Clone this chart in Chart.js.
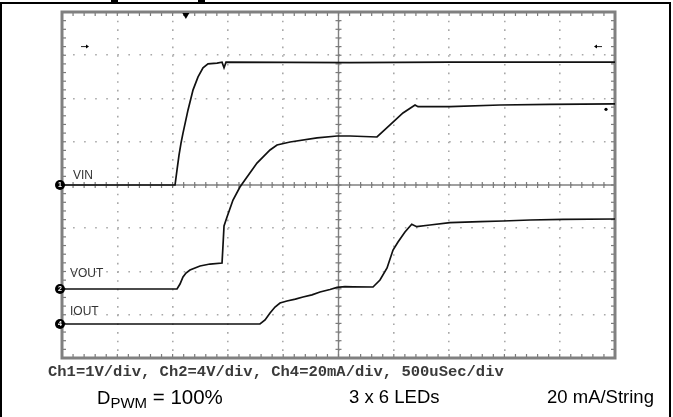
<!DOCTYPE html>
<html><head><meta charset="utf-8">
<script src="https://cdn.jsdelivr.net/npm/chart.js@4.4.1/dist/chart.umd.min.js"></script>
<style>
html,body{margin:0;padding:0;background:#fff;}
#wrap{position:relative;width:673px;height:417px;overflow:hidden;background:#fff;}
#box{position:absolute;left:0;top:2px;width:671px;height:440px;border:2px solid #000;box-sizing:border-box;}
canvas{position:absolute;left:0;top:0;}
.cap{position:absolute;font-family:"Liberation Mono","Courier New",monospace;font-weight:bold;font-size:15.5px;color:#3a3a3a;white-space:nowrap;}
.big{position:absolute;font-family:"Liberation Sans",Arial,sans-serif;font-size:18.5px;color:#000;white-space:nowrap;}
.big sub{font-size:15px;vertical-align:-4px;}
.big .eq{font-size:20.5px;}
.frag{position:absolute;top:0;height:2px;background:#000;}
</style></head>
<body><div id="wrap"><div id="box"></div><canvas id="c" width="673" height="417"></canvas>
<div class="frag" style="left:111px;width:7px"></div>
<div class="frag" style="left:198px;width:7px"></div>
<div class="cap" style="left:48px;top:363px">Ch1=1V/div, Ch2=4V/div, Ch4=20mA/div, 500uSec/div</div>
<div class="big" style="left:97px;top:385px">D<sub>PWM</sub><span class="eq"> = 100%</span></div>
<div class="big" style="left:349px;top:386px">3 x 6 LEDs</div>
<div class="big" style="left:547px;top:386px">20 mA/String</div>
</div>
<script>
// ---- data read from the scope capture (time in microseconds) ----
const vinTimeUs   = [0, 1022, 1040, 1058, 1076, 1094, 1139, 1185, 1230, 1275, 1320, 1402, 1447, 1465, 1483, 2600, 3500, 5000];
const vinVolts    = [0, 0, 0.35, 0.69, 0.97, 1.20, 1.73, 2.20, 2.50, 2.71, 2.80, 2.82, 2.84, 2.71, 2.84, 2.83, 2.84, 2.84];

const voutTimeUs  = [0, 1040, 1067, 1094, 1121, 1157, 1248, 1338, 1447, 1456, 1465, 1492, 1546, 1609, 1673, 1763, 1881, 1944, 2062, 2306, 2487, 2604, 2848, 2966, 3083, 3192, 3219, 3508, 3960, 4412, 5000];
const voutVolts   = [0, 0, 0.46, 1.11, 1.48, 1.76, 2.13, 2.31, 2.40, 4.10, 5.83, 6.66, 8.23, 9.43, 10.36, 11.65, 12.86, 13.32, 13.60, 13.97, 14.15, 14.15, 14.06, 15.17, 16.28, 17.02, 16.86, 16.86, 17.02, 17.08, 17.12];

const ioutTimeUs  = [0, 1790, 1836, 1881, 1926, 1971, 2034, 2110, 2179, 2260, 2333, 2423, 2487, 2559, 2631, 2812, 2875, 2939, 2993, 3038, 3101, 3162, 3207, 3327, 3508, 3780, 3987, 4232, 4530, 5000];
const ioutMilliA  = [0, 0, 1.85, 5.09, 7.86, 9.71, 10.64, 11.50, 12.49, 13.50, 14.80, 15.95, 16.90, 17.30, 17.20, 17.11, 20.35, 25.90, 34.22, 37.92, 42.54, 46.10, 44.99, 45.78, 46.84, 47.30, 47.63, 48.09, 48.41, 48.55];

const channelLabels = ['VIN', 'VOUT', 'IOUT'];
const channelNumbers = ['1', '2', '4'];

// scope settings
const timePerDivUs = 500, hDivs = 10, vDivs = 8;
const ch1PerDiv = 1, ch2PerDiv = 4, ch4PerDiv = 20;
const ch1GroundDiv = 0, ch2GroundDiv = -2.405, ch4GroundDiv = -3.214;

function pts(t, v){ return t.map((x,i)=>({x:x, y:v[i]})); }
function range(perDiv, gnd){ return {min:(-vDivs/2 - gnd)*perDiv, max:(vDivs/2 - gnd)*perDiv}; }

const graticule = {
  id: 'graticule',
  beforeDatasetsDraw(chart){
    const {ctx, chartArea:a, scales} = chart;
    const xs = scales.x, gs = scales.grid;
    const cx = xs.getPixelForValue(timePerDivUs*hDivs/2), cy = gs.getPixelForValue(0);
    const L = (x1,y1,x2,y2)=>{ctx.beginPath();ctx.moveTo(x1,y1);ctx.lineTo(x2,y2);ctx.stroke();};
    ctx.save();
    ctx.strokeStyle = '#808080'; ctx.lineWidth = 1.4;
    L(a.left, cy, a.right, cy); L(cx, a.top, cx, a.bottom);
    ctx.lineWidth = 1.2; ctx.strokeStyle = '#7a7a7a';
    for (let i=0;i<=hDivs*5;i++){
      const x = xs.getPixelForValue(i*timePerDivUs/5);
      L(x, a.top, x, a.top+4); L(x, a.bottom-4, x, a.bottom); L(x, cy-3, x, cy+3);
    }
    for (let j=0;j<=vDivs*5;j++){
      const y = gs.getPixelForValue(-vDivs/2 + j/5);
      L(a.left, y, a.left+4, y); L(a.right-4, y, a.right, y); L(cx-3, y, cx+3, y);
    }
    ctx.lineWidth = 3; ctx.strokeStyle = '#808080';
    ctx.strokeRect(a.left, a.top, a.right-a.left, a.bottom-a.top);
    ctx.restore();
  },
  afterDatasetsDraw(chart){
    const {ctx, chartArea:a, scales} = chart;
    ctx.save();
    const grounds = [scales.ch1.getPixelForValue(0), scales.ch2.getPixelForValue(0), scales.ch4.getPixelForValue(0)];
    const labelDx = [11, 8, 8], labelDy = [-6, -12, -9];
    grounds.forEach((gy,i)=>{
      ctx.font = '12px "Liberation Sans", Arial, sans-serif'; ctx.textAlign = 'left'; ctx.textBaseline = 'alphabetic';
      ctx.fillStyle = '#333';
      ctx.fillText(channelLabels[i], a.left + labelDx[i], gy + labelDy[i]);
      ctx.fillStyle = '#000';
      ctx.beginPath(); ctx.arc(a.left-2, gy, 5, 0, Math.PI*2); ctx.fill();
      ctx.fillStyle = '#fff'; ctx.font = 'bold 7px "Liberation Sans", Arial';
      ctx.textAlign = 'center'; ctx.textBaseline = 'middle';
      ctx.fillText(channelNumbers[i], a.left-2, gy+0.5);
    });
    // trigger position marker
    const tx = scales.x.getPixelForValue(1120);
    ctx.fillStyle = '#000';
    ctx.beginPath(); ctx.moveTo(tx-3.5, a.top+1); ctx.lineTo(tx+3.5, a.top+1); ctx.lineTo(tx, a.top+7); ctx.closePath(); ctx.fill();
    // trigger level arrows
    const ay = scales.grid.getPixelForValue(3.2);
    ctx.strokeStyle = '#222'; ctx.lineWidth = 1;
    const lx = a.left + 24, rx = a.right - 18;
    ctx.beginPath(); ctx.moveTo(lx-5, ay); ctx.lineTo(lx+2, ay); ctx.stroke();
    ctx.beginPath(); ctx.moveTo(lx+3, ay); ctx.lineTo(lx, ay-2); ctx.lineTo(lx, ay+2); ctx.closePath(); ctx.fill();
    ctx.beginPath(); ctx.moveTo(rx-2, ay); ctx.lineTo(rx+5, ay); ctx.stroke();
    ctx.beginPath(); ctx.moveTo(rx-3, ay); ctx.lineTo(rx, ay-2); ctx.lineTo(rx, ay+2); ctx.closePath(); ctx.fill();
    ctx.beginPath(); ctx.arc(a.right-9, scales.grid.getPixelForValue(1.75), 1.6, 0, Math.PI*2); ctx.fill();
    ctx.restore();
  }
};

const r2 = range(ch2PerDiv, ch2GroundDiv), r4 = range(ch4PerDiv, ch4GroundDiv), r1 = range(ch1PerDiv, ch1GroundDiv);
const trace = {borderColor:'#111', borderWidth:1.7, pointRadius:0, showLine:true, fill:false, tension:0};

new Chart(document.getElementById('c'), {
  type: 'scatter',
  data: { datasets: [
    Object.assign({label:'VIN',  data: pts(vinTimeUs, vinVolts),   yAxisID:'ch1'}, trace),
    Object.assign({label:'VOUT', data: pts(voutTimeUs, voutVolts), yAxisID:'ch2'}, trace),
    Object.assign({label:'IOUT', data: pts(ioutTimeUs, ioutMilliA), yAxisID:'ch4'}, trace)
  ]},
  options: {
    responsive:false, animation:false, devicePixelRatio:1,
    layout:{padding:{left:62, right:58, top:12, bottom:59}},
    plugins:{legend:{display:false}, tooltip:{enabled:false}},
    scales:{
      x:{type:'linear', min:0, max:timePerDivUs*hDivs, position:'bottom',
         ticks:{display:false, stepSize:timePerDivUs},
         grid:{color:'#a8a8a8', lineWidth:1.6, drawTicks:false},
         border:{display:false, dash:[1.6, 7.05]}},
      grid:{type:'linear', min:-vDivs/2, max:vDivs/2, position:'left',
         ticks:{display:false, stepSize:1},
         grid:{color:'#a8a8a8', lineWidth:1.6, drawTicks:false},
         border:{display:false, dash:[1.6, 9.46]}},
      ch1:{type:'linear', display:false, min:r1.min, max:r1.max},
      ch2:{type:'linear', display:false, min:r2.min, max:r2.max},
      ch4:{type:'linear', display:false, min:r4.min, max:r4.max}
    }
  },
  plugins:[graticule]
});
</script>
</body></html>
